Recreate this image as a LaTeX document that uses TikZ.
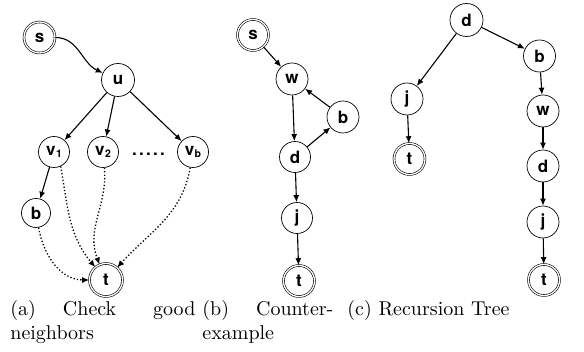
\documentclass[tikz,border=0pt]{standalone}
\usepackage{fontspec}
\newfontfamily\nodefont{TeX Gyre Heros}
\usepackage{tikz}
\usetikzlibrary{arrows.meta,positioning}

% subscripted neighbour label
\newcommand{\nbr}[1]{v\kern0.4pt\raisebox{-2.8pt}{\fontsize{10.5}{10.5}\selectfont #1}}

\begin{document}
\begin{tikzpicture}[x=1pt, y=1pt, >={Latex[length=7pt,width=6pt]},
    vtx/.style={circle, draw=black, line width=0.7pt, minimum size=31pt, inner sep=0pt,
                font=\nodefont\bfseries\fontsize{17}{17}\selectfont},
    term/.style={vtx, double, double distance=1.3pt, line width=0.6pt},
    link/.style={->, line width=1.1pt},
    maybe/.style={->, line width=1.3pt, dash pattern=on 1.3pt off 2.1pt},
    subcap/.style={scale=2, anchor=base west, inner sep=0pt, align=left}]
  \useasboundingbox (0,0) rectangle (584,352);

  % (a) check good neighbors
  \node[term] (s) at (39.5,314.5) {s};
  \node[vtx, minimum size=33pt] (u) at (118,272) {u};
  \node[vtx] (v1) at (54,200) {\nbr{1}};
  \node[vtx] (v2) at (103,200) {\nbr{2}};
  \node[vtx] (vb) at (193,200) {\nbr{b}};
  \node[font=\nodefont\bfseries\fontsize{17}{17}\selectfont] (gap) at (148.5,198)
    {.\kern2.3pt.\kern2.3pt.\kern2.3pt.\kern2.3pt.};
  \node[vtx, minimum size=29pt] (b) at (36,139) {b};
  \node[term, minimum size=33pt] (t) at (106,72) {t};

  \path[link]
    (s) edge[out=0, in=155] (u)
    (u) edge (v1)
    (u) edge (v2)
    (u) edge (vb)
    (v1) edge (b);
  \path[maybe]
    (v1.-65) edge[out=-80, in=130] (t)
    (v2) edge[out=-85, in=112] (t)
    (vb) edge[out=-100, in=48] (t)
    (b) edge[out=-80, in=180] (t);

  % (b) counter-example
  \node[term] (s2) at (253,317) {s};
  \node[vtx, minimum size=32pt] (w2) at (292,273) {w};
  \node[vtx, minimum size=32pt] (b2) at (343,235) {b};
  \node[vtx] (d2) at (295,195) {d};
  \node[vtx] (j2) at (297,134) {j};
  \node[term] (t2) at (299,71) {t};

  \path[link]
    (s2) edge (w2)
    (w2) edge (d2)
    (d2) edge (b2)
    (b2) edge (w2)
    (d2) edge (j2)
    (j2) edge (t2);

  % (c) recursion tree
  \node[vtx, minimum size=33pt] (d3) at (466.5,332) {d};
  \node[vtx, minimum size=32pt] (b3) at (539.5,296) {b};
  \node[vtx, minimum size=32pt] (j3) at (407,253) {j};
  \node[term] (t3) at (409.5,193) {t};
  \node[vtx, minimum size=32pt] (w3) at (543,241) {w};
  \node[vtx, minimum size=32pt] (d4) at (543,186) {d};
  \node[vtx, minimum size=32pt] (j4) at (543,130) {j};
  \node[term] (t4) at (544,72) {t};

  \path[link]
    (d3) edge (j3)
    (d3) edge (b3)
    (j3) edge (t3)
    (b3) edge (w3)
    (w3) edge (d4)
    (d4) edge (j4)
    (j4) edge (t4);

  % captions
  \node[subcap, text width=92.5pt] (capa) at (10,36) {(a)\hskip13.5pt Check\hfill good\\neighbors};
  \node[subcap, text width=67.5pt] (capb) at (202,36) {(b)\hskip13.5pt Counter-\\example};
  \node[subcap] (capc) at (347,36) {(c) Recursion Tree};
\end{tikzpicture}
\end{document}
